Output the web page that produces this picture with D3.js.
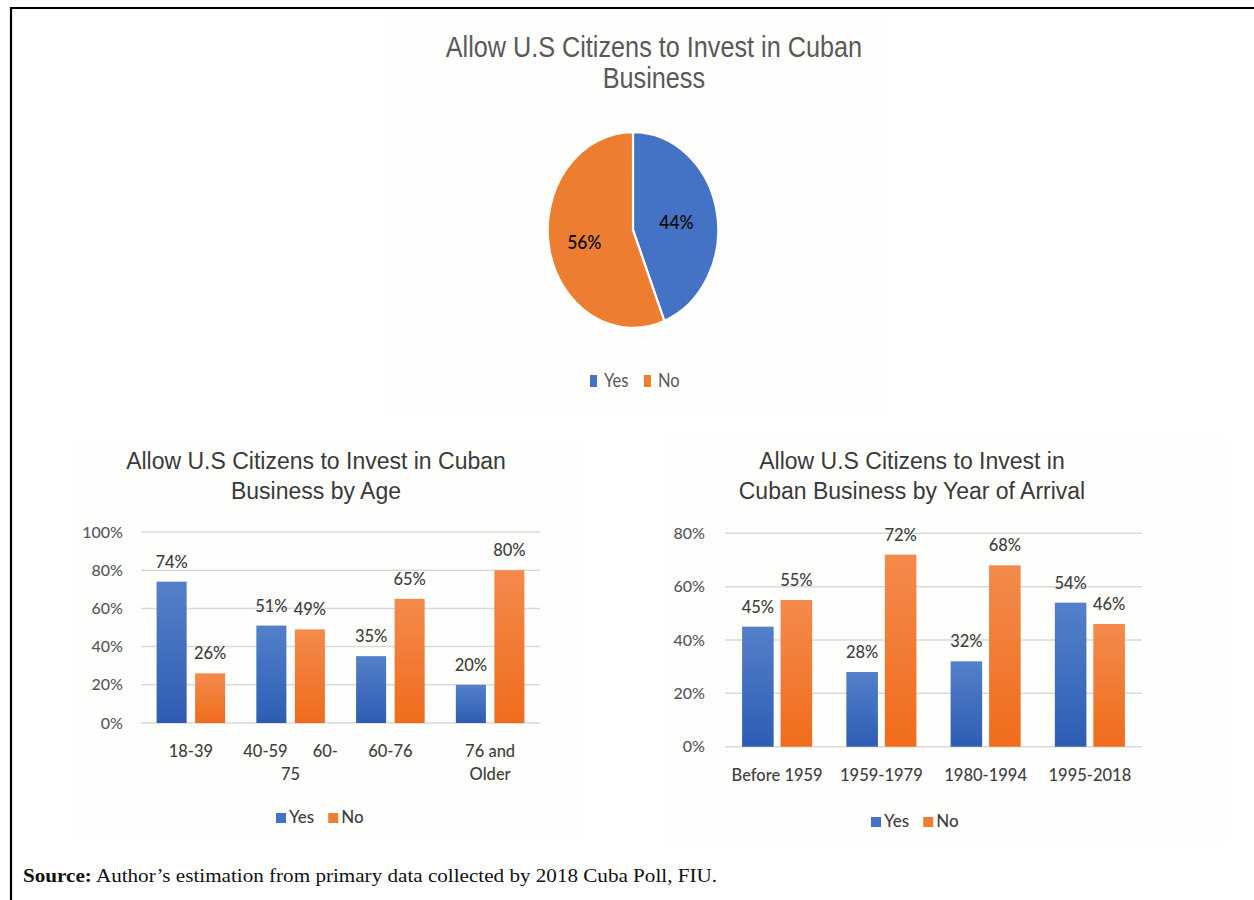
<!DOCTYPE html>
<html>
<head>
<meta charset="utf-8">
<script src="https://cdn.jsdelivr.net/npm/d3@7"></script>
<style>
  body { margin: 0; background: #fff; }
  svg { display: block; }
  text { white-space: pre; }
</style>
</head>
<body>
<div class="canvas_area"></div>
<script>
// DATA
const pieLabels = ["Yes", "No"];
const pieValues = [44, 56];

const ageLines = [["18-39"], ["40-59      60-", "75"], ["60-76"], ["76 and", "Older"]];
const ageYes = [0.74, 0.51, 0.35, 0.20];
const ageNo = [0.26, 0.49, 0.65, 0.80];
const ageTicks = [0, 0.2, 0.4, 0.6, 0.8, 1.0];

const arrivalCats = ["Before 1959", "1959-1979", "1980-1994", "1995-2018"];
const arrivalYes = [0.45, 0.28, 0.32, 0.54];
const arrivalNo = [0.55, 0.72, 0.68, 0.46];
const arrivalTicks = [0, 0.2, 0.4, 0.6, 0.8];

const series = ["Yes", "No"];

const W = 1254, H = 900;
const LABEL_FONT = "Lato, 'Open Sans', sans-serif";
const TITLE_FONT = "'Liberation Sans', Arial, sans-serif";

const svg = d3.select(".canvas_area").append("svg")
  .attr("width", W).attr("height", H);

// GRADIENTS
const defs = svg.append("defs");
function grad(id, top, bottom) {
  const g = defs.append("linearGradient").attr("id", id)
    .attr("x1", 0).attr("y1", 0).attr("x2", 0).attr("y2", 1);
  g.append("stop").attr("offset", "0%").attr("stop-color", top);
  g.append("stop").attr("offset", "100%").attr("stop-color", bottom);
}
grad("gYes", "#5580c9", "#2d5db3");
grad("gNo", "#f38a4c", "#f06c1c");
const fillOf = { Yes: "url(#gYes)", No: "url(#gNo)" };
const solidOf = { Yes: "#4472C4", No: "#ED7D31" };

// FRAME
svg.append("path")
  .attr("d", `M11,${H} L11,8 L${W},8`)
  .attr("fill", "none").attr("stroke", "#000").attr("stroke-width", 2.2);

// ---------- PIE ----------
svg.append("rect").attr("x", 388).attr("y", 20).attr("width", 496).attr("height", 393)
  .attr("fill", "#fefefc");

const pieG = svg.append("g").attr("transform", "translate(633,0) scale(0.87,1)");
pieG.append("text").attr("x", 24).attr("y", 57).attr("text-anchor", "middle")
  .style("font-family", TITLE_FONT).style("font-size", "29px").attr("fill", "#595959")
  .text("Allow U.S Citizens to Invest in Cuban");
pieG.append("text").attr("x", 24).attr("y", 88).attr("text-anchor", "middle")
  .style("font-family", TITLE_FONT).style("font-size", "29px").attr("fill", "#595959")
  .text("Business");

const pieR = 98;
const pie = d3.pie().sort(null).value(d => d);
const arc = d3.arc().innerRadius(0).outerRadius(pieR);
const pieData = pie(pieValues);
const slices = pieG.append("g").attr("transform", "translate(0,230)");
slices.selectAll("path").data(pieData).enter().append("path")
  .attr("d", arc)
  .attr("fill", (d, i) => solidOf[pieLabels[i]])
  .attr("stroke", "#fff").attr("stroke-width", 2.5);
const labelArc = d3.arc().innerRadius(pieR * 0.55).outerRadius(pieR * 0.55);
slices.selectAll(".pl").data(pieData).enter().append("text")
  .attr("transform", d => {
    const c = labelArc.centroid(d);
    return `translate(${c[0] - 3},${c[1] + 2})`;
  })
  .attr("text-anchor", "middle").attr("dy", "0.35em")
  .style("font-family", LABEL_FONT).style("font-size", "20px").style("font-weight", 600)
  .attr("fill", "#111")
  .text((d, i) => pieValues[i] + "%");

// pie legend
const pieLeg = pieG.append("g").attr("transform", `translate(${(590 - 633) / 0.87},375)`);
let px = 0;
pieLabels.forEach((s, i) => {
  pieLeg.append("rect").attr("x", px).attr("y", 0).attr("width", 8).attr("height", 12)
    .attr("fill", solidOf[s]);
  const t = pieLeg.append("text").attr("x", px + 16).attr("y", 12)
    .style("font-family", LABEL_FONT).style("font-size", "19px").attr("fill", "#595959")
    .text(s);
  px += 16 + t.node().getComputedTextLength() + 18;
});

// ---------- BAR CHARTS ----------
function barChart(opt) {
  const g = svg.append("g");
  g.append("rect").attr("x", opt.panel[0]).attr("y", opt.panel[1])
    .attr("width", opt.panel[2]).attr("height", opt.panel[3]).attr("fill", "#fefefc");

  opt.title.forEach((line, i) => {
    g.append("text").attr("x", opt.titleX).attr("y", 469 + i * 30)
      .attr("text-anchor", "middle")
      .style("font-family", TITLE_FONT).style("font-size", "23px").attr("fill", "#3a3a3a")
      .text(line);
  });

  const X = d3.scaleBand().domain(d3.range(opt.lines.length)).range(opt.xRange);
  const inner = d3.scaleBand().domain(series).range([0, X.bandwidth()])
    .paddingInner(opt.pi).paddingOuter(opt.po);
  const Y = d3.scaleLinear().domain(opt.yDomain).range(opt.yRange);

  // grid
  g.append("g").selectAll("line").data(opt.ticks).enter().append("line")
    .attr("x1", opt.xRange[0]).attr("x2", opt.xRange[1])
    .attr("y1", d => Y(d)).attr("y2", d => Y(d))
    .attr("stroke", "#d9d9d9").attr("stroke-width", 1.5);

  // y axis
  const yAxis = g.append("g").attr("transform", `translate(${opt.yLabelX},0)`)
    .call(d3.axisLeft(Y).tickValues(opt.ticks).tickFormat(d3.format(".0%")).tickSize(0).tickPadding(0));
  yAxis.select(".domain").remove();
  yAxis.selectAll("text").style("font-family", LABEL_FONT).style("font-size", "16px")
    .style("font-weight", 500).attr("fill", "#55595f");

  // bars
  const rows = opt.lines.map((l, i) => ({ i, Yes: opt.yes[i], No: opt.no[i] }));
  const grp = g.append("g").selectAll("g").data(rows).enter().append("g")
    .attr("transform", d => `translate(${X(d.i)},0)`);
  grp.selectAll("rect").data(d => series.map(s => ({ s, v: d[s] }))).enter().append("rect")
    .attr("x", d => inner(d.s)).attr("width", inner.bandwidth())
    .attr("y", d => Y(d.v)).attr("height", d => Y(0) - Y(d.v))
    .attr("fill", d => fillOf[d.s]);
  grp.selectAll("text").data(d => series.map(s => ({ s, v: d[s] }))).enter().append("text")
    .attr("x", d => inner(d.s) + inner.bandwidth() / 2)
    .attr("y", d => Y(d.v) - 14)
    .attr("text-anchor", "middle")
    .style("font-family", LABEL_FONT).style("font-size", "16.5px").style("font-weight", 500)
    .attr("fill", "#404040")
    .text(d => Math.round(d.v * 100) + "%");

  // x labels
  const xl = g.append("g").selectAll("text").data(opt.lines).enter().append("text")
    .attr("text-anchor", "middle")
    .attr("x", (d, i) => X(i) + X.bandwidth() / 2)
    .attr("y", opt.xLabelY)
    .style("font-family", LABEL_FONT).style("font-size", "16.5px").style("font-weight", 500)
    .attr("fill", "#404040");
  xl.each(function (d, i) {
    d3.select(this).selectAll("tspan").data(d).enter().append("tspan")
      .attr("x", X(i) + X.bandwidth() / 2)
      .attr("dy", (t, j) => j === 0 ? 0 : 23)
      .text(t => t);
  });

  // legend
  const leg = g.append("g").attr("transform", `translate(${opt.legX},${opt.legY})`);
  let lx = 0;
  series.forEach(s => {
    leg.append("rect").attr("x", lx).attr("y", -10).attr("width", 10).attr("height", 10)
      .attr("fill", solidOf[s]);
    const t = leg.append("text").attr("x", lx + 13).attr("y", 0)
      .style("font-family", LABEL_FONT).style("font-size", "17px").style("font-weight", 500)
      .attr("fill", "#404040")
      .text(s);
    lx += 13 + t.node().getComputedTextLength() + 14;
  });
}

barChart({
  panel: [75, 440, 505, 400],
  title: ["Allow U.S Citizens to Invest in Cuban", "Business by Age"],
  titleX: 316,
  lines: ageLines, yes: ageYes, no: ageNo, ticks: ageTicks,
  xRange: [141, 540], pi: 0.22, po: 0.405,
  yDomain: [0, 1], yRange: [723, 532],
  yLabelX: 123, xLabelY: 757,
  legX: 276, legY: 823
});

barChart({
  panel: [665, 437, 560, 408],
  title: ["Allow U.S Citizens to Invest in", "Cuban Business by Year of Arrival"],
  titleX: 912,
  lines: arrivalCats.map(c => [c]), yes: arrivalYes, no: arrivalNo, ticks: arrivalTicks,
  xRange: [725, 1142], pi: 0.18, po: 0.444,
  yDomain: [0, 0.8], yRange: [746.7, 533.3],
  yLabelX: 705, xLabelY: 781,
  legX: 871, legY: 827
});

// SOURCE
const src = svg.append("text").attr("x", 23).attr("y", 882)
  .attr("textLength", 694).attr("lengthAdjust", "spacingAndGlyphs")
  .style("font-family", "'Liberation Serif', 'DejaVu Serif', serif").style("font-size", "19.5px")
  .attr("fill", "#111");
src.append("tspan").style("font-weight", "bold").text("Source:");
src.append("tspan").text(" Author’s estimation from primary data collected by 2018 Cuba Poll, FIU.");
</script>
</body>
</html>
